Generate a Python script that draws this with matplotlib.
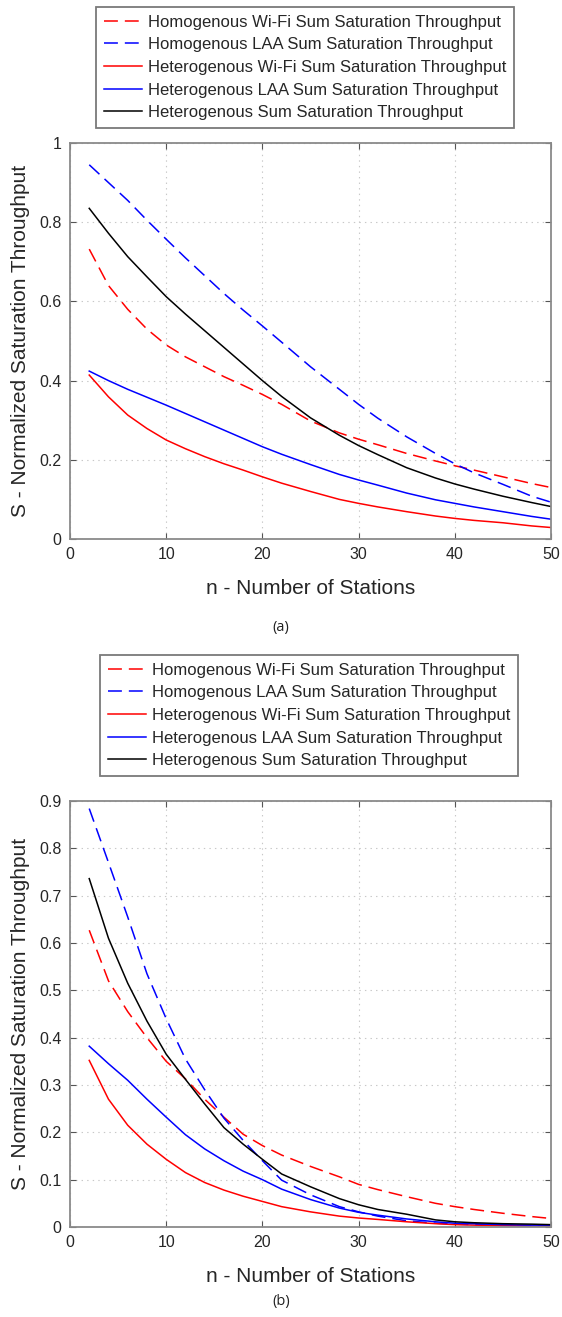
import matplotlib
matplotlib.use("Agg")
import matplotlib.pyplot as plt
from matplotlib.ticker import FuncFormatter

plt.rcParams['font.family'] = ['Liberation Sans', 'DejaVu Sans']
plt.rcParams['lines.scale_dashes'] = False

# ---------------- DATA ----------------
n = [2, 4, 6, 8, 10, 12, 14, 16, 18, 20, 22, 25, 28, 30, 32, 35, 38, 40, 42, 45, 48, 50]

labels = [
    "Homogenous Wi-Fi Sum Saturation Throughput",
    "Homogenous LAA Sum Saturation Throughput",
    "Heterogenous Wi-Fi Sum Saturation Throughput",
    "Heterogenous LAA Sum Saturation Throughput",
    "Heterogenous Sum Saturation Throughput",
]

# (a)
a_hom_wifi = [.732, .640, .580, .530, .490, .460, .435, .410, .388, .365, .340, .298,
              .268, .252, .238, .216, .197, .185, .174, .157, .140, .130]
a_hom_laa = [.945, .900, .855, .805, .757, .710, .665, .620, .578, .538, .497, .435,
             .378, .340, .305, .258, .216, .190, .167, .138, .108, .093]
a_het_wifi = [.414, .359, .313, .279, .250, .228, .208, .190, .174, .157, .141, .120,
              .100, .090, .081, .069, .058, .052, .047, .041, .033, .029]
a_het_laa = [.424, .400, .378, .358, .338, .317, .296, .275, .254, .233, .214, .188,
             .163, .149, .136, .116, .099, .090, .081, .069, .057, .050]
a_het_sum = [.835, .772, .713, .662, .612, .568, .526, .484, .442, .400, .360, .306,
             .262, .236, .213, .180, .154, .139, .126, .108, .092, .082]

# (b)
b_hom_wifi = [.627, .520, .455, .400, .350, .313, .270, .232, .196, .172, .152, .128,
              .106, .090, .079, .064, .050, .043, .037, .029, .022, .018]
b_hom_laa = [.884, .770, .655, .535, .440, .355, .290, .230, .183, .140, .099, .068,
             .043, .032, .023, .013, .008, .006, .005, .004, .003, .003]
b_het_wifi = [.352, .270, .215, .175, .143, .115, .094, .078, .065, .054, .043, .032,
              .023, .019, .016, .011, .007, .005, .004, .003, .002, .002]
b_het_laa = [.382, .345, .310, .270, .232, .195, .165, .140, .118, .100, .080, .058,
             .040, .031, .025, .017, .011, .008, .007, .005, .004, .004]
b_het_sum = [.736, .610, .515, .435, .365, .312, .260, .210, .175, .143, .112, .085,
             .060, .047, .037, .027, .015, .011, .009, .007, .006, .005]

W, H = 562, 1317
fig = plt.figure(figsize=(W / 100, H / 100), dpi=100)

DASH = (0, (10, 5))
styles = [("red", DASH), ("blue", DASH), ("red", "-"), ("blue", "-"), ("black", "-")]
tick_col = "#262626"
spine_col = "#8a8a8a"


def make_panel(rect, series, ymax, yticks, leg_xy, caption, cap_y):
    ax = fig.add_axes(rect)
    handles = []
    for vals, (c, ls), lab in zip(series, styles, labels):
        h, = ax.plot(n, vals, color=c, linestyle=ls, linewidth=1.1, label=lab)
        handles.append(h)

    ax.set_xlim(0, 50)
    ax.set_ylim(0, ymax)
    ax.set_xticks([0, 10, 20, 30, 40, 50])
    ax.set_yticks(yticks)
    ax.yaxis.set_major_formatter(FuncFormatter(lambda v, p: "%g" % round(v, 2)))
    ax.grid(True, linestyle=(0, (1, 3)), color="#c8c8c8", linewidth=0.8)
    ax.tick_params(direction="in", top=True, right=True, length=4, width=0.8,
                   color="#555555", labelsize=11.5, labelcolor=tick_col, pad=6)
    for s in ax.spines.values():
        s.set_color(spine_col)
        s.set_linewidth(1.3)

    ax.set_xlabel("n - Number of Stations", fontsize=15, color=tick_col, labelpad=12)
    ax.set_ylabel("S - Normalized Saturation Throughput", fontsize=15, color=tick_col,
                  labelpad=7)

    leg = ax.legend(handles=handles, loc="upper left",
                    bbox_to_anchor=(leg_xy[0] / W, 1 - leg_xy[1] / H),
                    bbox_transform=fig.transFigure, borderaxespad=0,
                    fontsize=12, handlelength=2.3, handletextpad=0.4,
                    labelspacing=0.46, borderpad=0.45, fancybox=False,
                    edgecolor="#7a7a7a", framealpha=1)
    leg.get_frame().set_linewidth(1.3)
    for t in leg.get_texts():
        t.set_color(tick_col)

    fig.text(281 / W, 1 - cap_y / H, caption, ha="center", va="center",
             fontsize=10.5, color="#222222", family=["Open Sans", "DejaVu Sans"])
    return ax


# ---------------- PANEL (a) ----------------
make_panel([70 / W, 1 - 539 / H, 481 / W, 396 / H],
           [a_hom_wifi, a_hom_laa, a_het_wifi, a_het_laa, a_het_sum],
           1.0, [0, 0.2, 0.4, 0.6, 0.8, 1.0], (96, 7), "(a)", 628)

# ---------------- PANEL (b) ----------------
make_panel([70 / W, 1 - 1227 / H, 481 / W, 426 / H],
           [b_hom_wifi, b_hom_laa, b_het_wifi, b_het_laa, b_het_sum],
           0.9, [0, 0.1, 0.2, 0.3, 0.4, 0.5, 0.6, 0.7, 0.8, 0.9], (100, 655), "(b)", 1302)

fig.savefig("out.png", dpi=100)
